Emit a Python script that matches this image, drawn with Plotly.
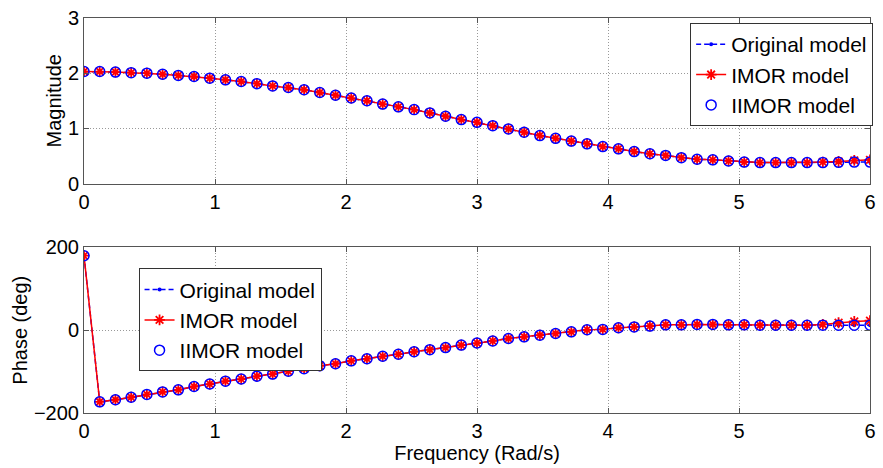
import plotly.graph_objects as go
from plotly.subplots import make_subplots

freq = [round(0.12 * i, 2) for i in range(51)]

mag_original = [2.03, 2.03, 2.02, 2.01, 2.00, 1.98, 1.96, 1.94, 1.91, 1.88,
                1.85, 1.81, 1.77, 1.74, 1.70, 1.65, 1.60, 1.55, 1.50, 1.44,
                1.39, 1.34, 1.28, 1.22, 1.16, 1.11, 1.05, 0.99, 0.93, 0.87,
                0.82, 0.77, 0.72, 0.67, 0.63, 0.58, 0.54, 0.51, 0.47, 0.44,
                0.43, 0.41, 0.39, 0.38, 0.38, 0.38, 0.38, 0.38, 0.385, 0.39, 0.39]
mag_imor = mag_original[:47] + [0.39, 0.40, 0.42, 0.43]
mag_iimor = mag_original[:]

phase_original = [180, -173, -168, -162, -155, -149, -144, -136, -130, -123,
                  -118, -111, -106, -99, -93, -86, -81, -74, -69, -63,
                  -58, -52, -47, -42, -36, -31, -26, -20, -16, -12,
                  -8, -4, 1, 2, 6, 8, 10, 13, 13, 14,
                  14, 13, 13, 12, 12, 12, 12, 12, 12, 12, 12]
phase_imor = phase_original[:47] + [14, 18, 21, 23]
phase_iimor = phase_original[:]

names = ["Original model", "IMOR model", "IIMOR model"]
blue = "#0000FF"
red = "#FF0000"
font = "Liberation Sans, Arial, sans-serif"

fig = make_subplots(rows=2, cols=1, vertical_spacing=0.1616)

def add_set(row, orig, imor, iimor, legend):
    fig.add_trace(go.Scatter(x=freq, y=orig, name=names[0], mode="lines+markers",
                             line=dict(color=blue, width=1.5, dash="5px,3px"),
                             marker=dict(color=blue, size=4, symbol="circle"),
                             legend=legend), row=row, col=1)
    fig.add_trace(go.Scatter(x=freq, y=imor, name=names[1], mode="lines+markers",
                             line=dict(color=red, width=1.5),
                             marker=dict(symbol="asterisk-open", size=9, color=red,
                                         line=dict(color=red, width=1.8)),
                             legend=legend), row=row, col=1)
    fig.add_trace(go.Scatter(x=freq, y=iimor, name=names[2], mode="markers",
                             marker=dict(symbol="circle-open", size=10, color=blue,
                                         line=dict(color=blue, width=1.5)),
                             legend=legend), row=row, col=1)

add_set(1, mag_original, mag_imor, mag_iimor, "legend")
add_set(2, phase_original, phase_imor, phase_iimor, "legend2")

axis_common = dict(showline=True, linecolor="#555555", linewidth=1, mirror="ticks",
                   ticks="inside", ticklen=5, tickcolor="#555555",
                   showgrid=True, gridcolor="#999999", griddash="1px,2px", gridwidth=1,
                   zeroline=False, tickfont=dict(size=20, color="black", family=font))

fig.update_xaxes(range=[0, 6], dtick=1, **axis_common)
fig.update_yaxes(**axis_common)
fig.update_yaxes(range=[0, 3], dtick=1, title_text="Magnitude", row=1, col=1)
fig.update_yaxes(range=[-200, 200], tickvals=[-200, 0, 200], title_text="Phase (deg)", row=2, col=1)
fig.update_xaxes(title_text="Frequency (Rad/s)", title_standoff=4, row=2, col=1)
fig.update_yaxes(title_font=dict(size=20, color="black", family=font), title_standoff=0)
fig.update_xaxes(title_font=dict(size=20, color="black", family=font))

legend_style = dict(bgcolor="white", bordercolor="#333333", borderwidth=1,
                    font=dict(size=21, color="black", family=font),
                    itemwidth=30, tracegroupgap=0)

fig.update_layout(
    width=883, height=468,
    margin=dict(l=84, r=7, t=17, b=55),
    paper_bgcolor="white", plot_bgcolor="white",
    font=dict(family=font, color="black"),
    legend=dict(x=1.004, y=0.987, xanchor="right", yanchor="top", **legend_style),
    legend2=dict(x=0.0694, y=0.366, xanchor="left", yanchor="top", **legend_style),
)

fig.write_html("out.html")
